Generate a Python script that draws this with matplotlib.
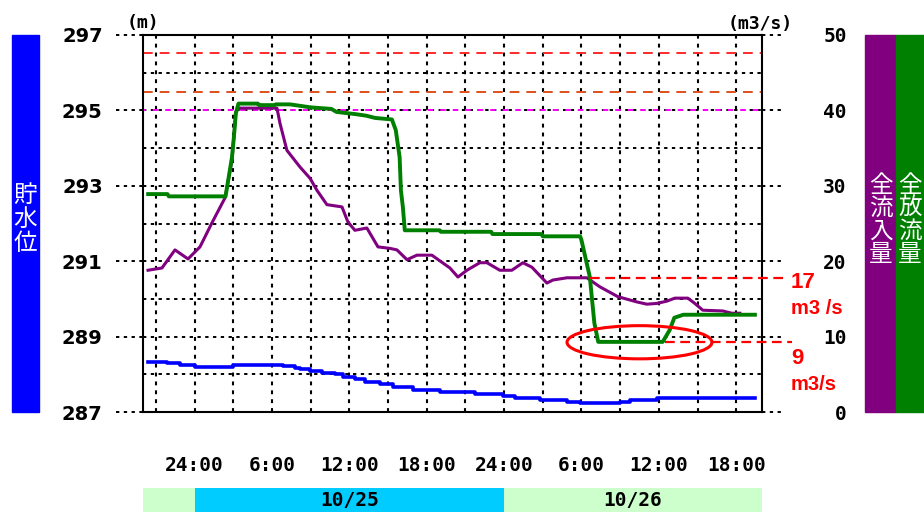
import matplotlib
matplotlib.use('Agg')
import matplotlib.pyplot as plt
from matplotlib.patches import Rectangle, Ellipse

plt.rcParams['lines.scale_dashes'] = False

# ---------------- data (hours from 10/24 20:00) ----------------
level_t = [0.39, 1.86, 2.87, 4.03, 6.98, 10.85, 11.78, 12.17, 12.95, 13.88, 14.88, 15.5,
           16.43, 17.21, 18.37, 19.38, 20.93, 23.02, 25.74, 27.91, 28.84, 30.78, 32.87,
           33.88, 36.98, 37.75, 39.84, 47.44]
level_v = [288.33, 288.30, 288.25, 288.19, 288.25, 288.22, 288.17, 288.14, 288.09, 288.03,
           288.00, 287.93, 287.87, 287.80, 287.74, 287.66, 287.58, 287.53, 287.48, 287.42,
           287.37, 287.32, 287.27, 287.24, 287.27, 287.32, 287.37, 287.37]

inflow_t = [0.39, 1.47, 2.48, 3.49, 4.42, 5.35, 6.36, 6.9, 7.2, 7.36, 10.39, 10.62, 11.16,
            12.17, 12.95, 13.49, 14.26, 15.43, 15.89, 16.43, 17.36, 18.22, 19.15, 19.69,
            20.47, 21.24, 22.40, 23.8, 24.42, 25.12, 26.12, 26.67, 27.67, 28.6, 29.46, 30.16,
            31.32, 31.78, 32.87, 33.64, 34.42, 35.43, 36.82, 38.29, 39.07, 39.84, 40.62,
            41.24, 42.25, 42.79, 43.41, 44.96, 45.66, 46.28]
inflow_v = [18.8, 19.1, 21.5, 20.3, 21.9, 25.1, 28.4, 33.4, 39.8, 40.3, 40.3, 38.3, 34.7,
            32.5, 31.0, 29.4, 27.5, 27.2, 25.2, 24.1, 24.4, 21.9, 21.7, 21.5, 20.2, 20.8,
            20.8, 19.1, 17.9, 18.8, 19.8, 19.8, 18.8, 18.8, 19.8, 19.2, 17.1, 17.5, 17.8,
            17.8, 17.8, 16.6, 15.3, 14.6, 14.3, 14.4, 14.7, 15.1, 15.1, 14.4, 13.5, 13.4,
            13.1, 13.1]

outflow_t = [0.4, 1.9, 2.0, 6.4, 6.7, 6.9, 7.05, 7.2, 7.4, 8.9, 9.0, 10.2, 10.3, 11.4, 12.2,
             13.0, 14.6, 15.0, 16.5, 17.3, 18.0, 19.3, 19.6, 19.9, 20.0, 20.15, 20.3, 23.0,
             23.1, 27.0, 27.1, 30.9, 31.0, 33.9, 34.0, 34.65, 35.0, 35.3, 40.3, 40.85, 41.2,
             41.9, 47.45]
outflow_v = [28.9, 28.9, 28.6, 28.6, 31.7, 33.8, 36.5, 39.6, 40.9, 40.9, 40.7, 40.7, 40.8,
             40.8, 40.6, 40.4, 40.2, 39.8, 39.5, 39.3, 39.0, 38.8, 37.4, 33.8, 29.4, 27.2,
             24.1, 24.1, 23.9, 23.9, 23.6, 23.6, 23.3, 23.3, 22.8, 17.9, 11.8, 9.3, 9.3,
             10.9, 12.5, 12.9, 12.9]

ref_levels = [296.52, 295.5, 295.0]
ref_colors = ['#ff2a2a', '#e0501c', '#ff00ff']

xtick_pos = [4, 10, 16, 22, 28, 34, 40, 46]
xtick_labels = ['24:00', '6:00', '12:00', '18:00', '24:00', '6:00', '12:00', '18:00']
left_ticks = [287, 289, 291, 293, 295, 297]
right_ticks = [0, 10, 20, 30, 40, 50]

date_starts = [0, 4, 28]
date_ends = [4, 28, 48]
date_labels = ['', '10/25', '10/26']
date_colors = ['#ccffcc', '#00ccff', '#ccffcc']

annot_values = [17.8, 9.3]
annot_starts = [34.65, 40.5]
annot_ends = [50.0, 50.3]
annot_texts = [('17', 'm3 /s'), ('9', 'm3/s')]

# ---------------- figure ----------------
W, H = 924, 513
fig = plt.figure(figsize=(9.24, 5.13), dpi=100)


def fx(px):
    return px / W


def fy(py):
    return 1 - py / H


ax = fig.add_axes([fx(143), fy(412), fx(762) - fx(143), fy(35) - fy(412)])
ax.set_xlim(0, 48)
ax.set_ylim(287, 297)
ax2 = ax.twinx()
ax2.set_ylim(0, 50)

mono = dict(family='DejaVu Sans Mono', weight='bold')

# grid
for v in range(288, 297):
    ax.axhline(v, color='black', lw=1.4, ls=(0, (2.4, 3.2)), zorder=1)
for t in range(1, 48, 3):
    ax.axvline(t, color='black', lw=1.5, ls=(0, (2.8, 3.6)), zorder=1)
for v in left_ticks:
    ax.plot([-0.043, 0], [v, v], color='black', lw=1.4, ls=(0, (2.4, 3.2)),
            transform=ax.get_yaxis_transform(), clip_on=False)
    ax.plot([1, 1.033], [v, v], color='black', lw=1.4, ls=(0, (2.4, 3.2)),
            transform=ax.get_yaxis_transform(), clip_on=False)

# reference levels
for v, c in zip(ref_levels[:2], ref_colors[:2]):
    ax.axhline(v, color=c, lw=1.4, ls=(0, (7, 5)), zorder=2)
ax.axhline(ref_levels[2], color=ref_colors[2], lw=1.4, ls=(2, (4, 5)), zorder=2)

# series
ax.plot(level_t, level_v, color='#0000ff', lw=2.6, drawstyle='steps-post', zorder=3)
ax2.plot(inflow_t, inflow_v, color='#800080', lw=2.2, zorder=3)
ax2.plot(outflow_t, outflow_v, color='#008000', lw=2.8, zorder=4)

# annotations
for v, s, e in zip(annot_values, annot_starts, annot_ends):
    ax2.plot([s, e], [v, v], color='#ff0000', lw=1.6, ls=(0, (7, 4)), clip_on=False, zorder=5)
ax2.add_patch(Ellipse((38.5, 9.25), 11.24, 4.4, fill=False, ec='#ff0000', lw=2.2,
                      clip_on=False, zorder=6))
fig.text(fx(791), fy(283), annot_texts[0][0], color='#ff0000', fontsize=16, weight='bold',
         family='Liberation Sans', ha='left', va='center')
fig.text(fx(791), fy(308), annot_texts[0][1], color='#ff0000', fontsize=14.5, weight='bold',
         family='Liberation Sans', ha='left', va='center')
fig.text(fx(791), fy(358), annot_texts[1][0], color='#ff0000', fontsize=16, weight='bold',
         family='Liberation Sans', ha='left', va='center')
fig.text(fx(791), fy(384), annot_texts[1][1], color='#ff0000', fontsize=14.5, weight='bold',
         family='Liberation Sans', ha='left', va='center')

# spines and ticks
for sp in ax.spines.values():
    sp.set_linewidth(1.5)
    sp.set_color('black')
for sp in ax2.spines.values():
    sp.set_visible(False)

ax.set_xticks(xtick_pos)
ax.set_xticklabels(xtick_labels, **mono, fontsize=14)
ax.tick_params(axis='x', length=0, pad=32)
ax.set_yticks(left_ticks)
ax.set_yticklabels([str(v) for v in left_ticks], family='DejaVu Sans', weight='bold', fontsize=14)
ax.tick_params(axis='y', length=0, pad=29)
ax2.set_yticks(right_ticks)
ax2.set_yticklabels([str(v) for v in right_ticks], **mono, fontsize=14)
ax2.tick_params(axis='y', length=0, pad=61)
for lab in ax2.get_yticklabels():
    lab.set_horizontalalignment('right')

# units
fig.text(fx(143), fy(23), '(m)', ha='center', va='center', fontsize=13, **mono)
fig.text(fx(760), fy(24), '(m3/s)', ha='center', va='center', fontsize=13, **mono)

# date bar
ax3 = fig.add_axes([fx(143), fy(512), fx(762) - fx(143), fy(488) - fy(512)])
ax3.set_xlim(0, 48)
ax3.set_ylim(0, 1)
ax3.axis('off')
for s, e, c, lab in zip(date_starts, date_ends, date_colors, date_labels):
    ax3.axvspan(s, e, color=c, lw=0)
    if lab:
        ax3.text((s + e) / 2, 0.5, lab, ha='center', va='center', fontsize=14, **mono)

# side bars
fig.patches.append(Rectangle((fx(12), fy(412)), fx(27), fy(35) - fy(412),
                             transform=fig.transFigure, color='#0000ff', zorder=0))
fig.patches.append(Rectangle((fx(865), fy(412)), fx(31), fy(35) - fy(412),
                             transform=fig.transFigure, color='#800080', zorder=0))
fig.patches.append(Rectangle((fx(896), fy(412)), fx(28), fy(35) - fy(412),
                             transform=fig.transFigure, color='#008000', zorder=0))
cjk = ['Noto Sans CJK JP', 'DejaVu Sans']
fig.text(fx(25.5), fy(184), '貯\n水\n位', ha='center', va='top', color='white',
         fontsize=17, family=cjk, linespacing=1.05)
fig.text(fx(880.5), fy(174), '全\n流\n入\n量', ha='center', va='top', color='white',
         fontsize=17, family=cjk, linespacing=1.0)
fig.text(fx(910), fy(174), '全\n放\n流\n量', ha='center', va='top', color='white',
         fontsize=17, family=cjk, linespacing=1.0)

fig.savefig('out.png', dpi=100)
